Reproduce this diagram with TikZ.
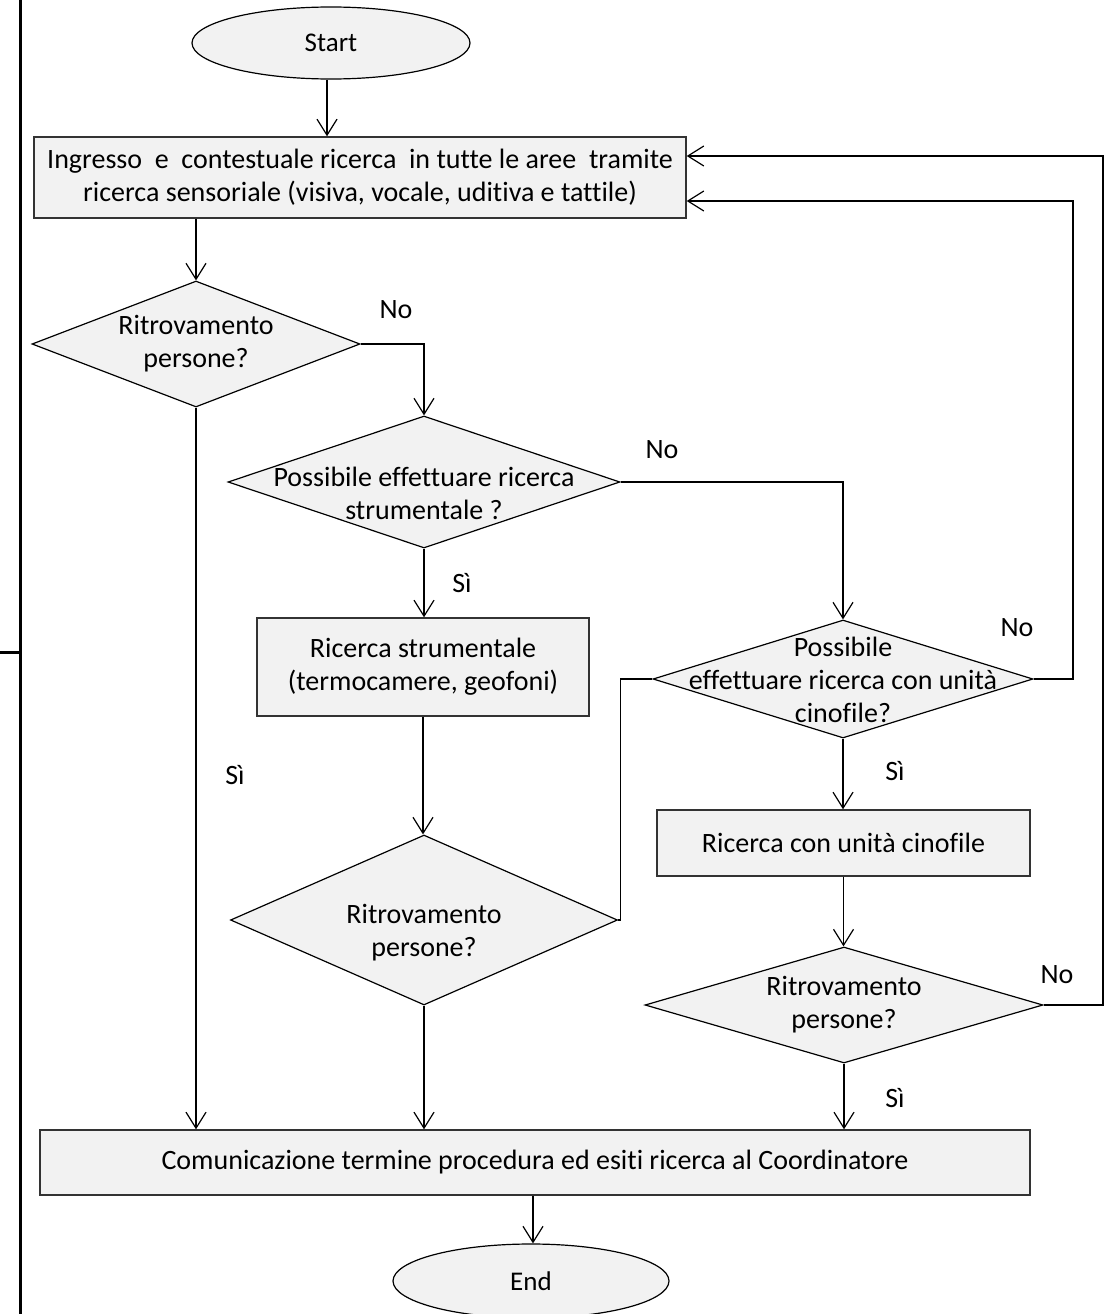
\documentclass[tikz,border=0pt]{standalone}
\usepackage{fontspec}
\setmainfont[Ligatures=NoCommon]{Carlito}
\usetikzlibrary{shapes.geometric,arrows.meta,calc}
\definecolor{boxfill}{HTML}{F2F2F2}
\begin{document}
\begin{tikzpicture}[x=1pt,y=-1pt,
  font=\fontsize{28}{33}\selectfont,
  box/.style={draw=black!80, line width=1.4pt, fill=boxfill, inner sep=0pt, align=center},
  term/.style={ellipse, draw=black, line width=1.2pt, fill=boxfill, inner sep=0pt, font=\fontsize{27}{33}\selectfont},
  dia/.style={diamond, draw=black, line width=1.2pt, fill=boxfill, inner sep=0pt},
  txt/.style={inner sep=0pt, align=center},
  arr/.style={-{Straight Barb[length=16pt,width=20pt]}, line width=1.2pt},
  conn/.style={line width=1.2pt}]
\useasboundingbox (0,0) rectangle (1113,1314);
% left margin rule
\draw[line width=3pt] (20,0) -- (20,1314);
\draw[line width=3pt] (0,652) -- (20,652);

% nodes
\node[term, minimum width=278pt, minimum height=72pt] (start) at (331,43) {Start};
\node[box, minimum width=652pt, minimum height=81pt] (b1) at (360,177.5)
  {Ingresso\ \ e\ \ contestuale ricerca\ \ in tutte le aree\ \ tramite\\ricerca sensoriale (visiva, vocale, uditiva e tattile)};
\node[dia, minimum width=328pt, minimum height=126pt] (d1) at (196,344) {};
\node[txt] (t1) at (196,344) {Ritrovamento\\persone?};
\node[dia, minimum width=392pt, minimum height=132pt] (d2) at (424,482) {};
\node[txt] (t2) at (424,493) {Possibile effettuare ricerca\\strumentale ?};
\node[box, minimum width=332pt, minimum height=98pt] (r2) at (423,667)
  {Ricerca strumentale\\(termocamere, geofoni)};
\node[dia, minimum width=380pt, minimum height=118pt] (d3) at (843,679) {};
\node[txt] (t3) at (843,680) {Possibile\\effettuare ricerca con unità\\cinofile?};
\node[box, minimum width=373pt, minimum height=66pt] (r3) at (843.5,843) {Ricerca con unità cinofile};
\node[dia, minimum width=387pt, minimum height=170pt] (d4) at (424,920) {};
\node[txt] (t4) at (424,933) {Ritrovamento\\persone?};
\node[dia, minimum width=398pt, minimum height=116pt] (d5) at (844,1005) {};
\node[txt] (t5) at (844,1005) {Ritrovamento\\persone?};
\node[box, minimum width=990pt, minimum height=65pt] (fin) at (535,1162.5)
  {Comunicazione termine procedura ed esiti ricerca al Coordinatore};
\node[term, minimum width=276pt, minimum height=74pt] (end) at (531,1281) {End};

% labels
\node[txt] (n1) at (396,310) {No};
\node[txt] (n2) at (662,450) {No};
\node[txt] (n3) at (1017,628) {No};
\node[txt] (n4) at (1057,975) {No};
\node[txt] (s1) at (462,583) {Sì};
\node[txt] (s2) at (235,775) {Sì};
\node[txt] (s3) at (895,771) {Sì};
\node[txt] (s4) at (895,1098) {Sì};

% feedback corners
\coordinate (c1) at (1073,201);
\coordinate (c2) at (1103,156);

% connectors
\draw[arr] (start.south -| 327,0) -- (b1.north -| 327,0);
\draw[arr] (b1.south -| d1.north) -- (d1.north);
\draw[arr] (d1.east) -| (d2.north);
\draw[arr] (d2.east) -| (d3.north);
\draw[arr] (d2.south) -- (r2.north -| d2.south);
\draw[arr] (r2.south) -- (d4.north -| r2.south);
\draw[conn] (d4.east) -- ++(2,0) |- (d3.west);
\draw[arr] (d3.east) -- (d3.east -| c1) -- (c1) -- (c1 -| b1.east);
\draw[arr] (d3.south) -- (r3.north -| d3.south);
\draw[arr] (r3.south) -- (d5.north -| r3.south);
\draw[arr] (d5.east) -- (d5.east -| c2) -- (c2) -- (c2 -| b1.east);
\draw[arr] (d5.south) -- (d5.south |- fin.north);
\draw[arr] (d1.south) -- (d1.south |- fin.north);
\draw[arr] (d4.south) -- (d4.south |- fin.north);
\draw[arr] (fin.south -| 533,0) -- (end.north -| 533,0);
\end{tikzpicture}
\end{document}
